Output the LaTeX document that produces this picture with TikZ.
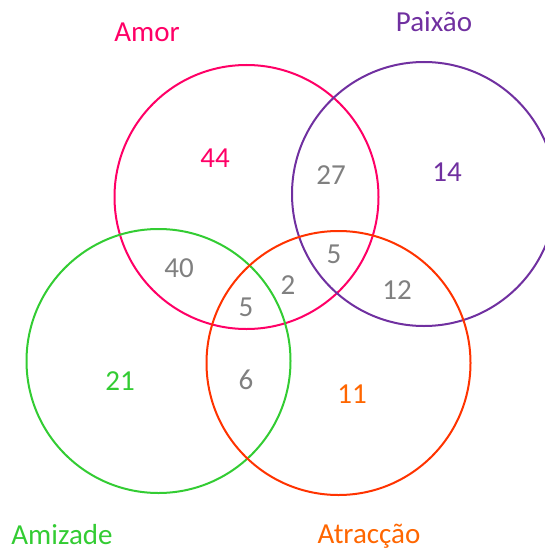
\documentclass[tikz,border=0pt]{standalone}
\usepackage{fontspec}
\setmainfont{Carlito}
\usepackage{xcolor}
\usetikzlibrary{positioning}

\definecolor{amorcol}{HTML}{FF0066}
\definecolor{paixaocol}{HTML}{7030A0}
\definecolor{amizadecol}{HTML}{33CC33}
\definecolor{atraccaocol}{HTML}{FF3300}
\definecolor{atraccaotxt}{HTML}{FF6600}
\definecolor{countcol}{HTML}{808080}

\begin{document}
\begin{tikzpicture}[
    x=1pt, y=-1pt,
    setcircle/.style={circle, draw=#1, line width=2pt, minimum size=264pt, inner sep=0pt},
    setlabel/.style={text=#1, font=\fontsize{29}{35}\selectfont, inner sep=0pt},
    count/.style={text=countcol, font=\fontsize{29}{35}\selectfont, inner sep=0pt},
]
\useasboundingbox (0,0) rectangle (545,551);

% === SETS ===
\node[setcircle=amorcol]     (Amor)     at (246.5, 197) {};
\node[setcircle=paixaocol]   (Paixao)   at (424,   194) {};
\node[setcircle=amizadecol]  (Amizade)  at (158.5, 361) {};
\node[setcircle=atraccaocol] (Atraccao) at (338.5, 363) {};

% === SET NAMES ===
\node[setlabel=amorcol]     (lAmor)     at (147, 32)  {Amor};
\node[setlabel=paixaocol]   (lPaixao)   at (434, 22)  {Paixão};
\node[setlabel=amizadecol]  (lAmizade)  at (62, 535)  {Amizade};
\node[setlabel=atraccaotxt] (lAtraccao) at (369, 536) {Atracção};

% === REGION COUNTS ===
\node[count, text=amorcol]     (nA)    at (215, 158) {44};
\node[count]                   (nAP)   at (331, 175) {27};
\node[count, text=paixaocol]   (nP)    at (447, 172) {14};
\node[count]                   (nAZ)   at (179, 268) {40};
\node[count]                   (nAPT)  at (334, 254) {5};
\node[count]                   (nAT)   at (288, 285) {2};
\node[count]                   (nPT)   at (397, 290) {12};
\node[count]                   (nAZT)  at (246, 307) {5};
\node[count, text=amizadecol]  (nZ)    at (120, 381) {21};
\node[count]                   (nZT)   at (246, 380) {6};
\node[count, text=atraccaotxt] (nT)    at (352, 394) {11};

\end{tikzpicture}
\end{document}
